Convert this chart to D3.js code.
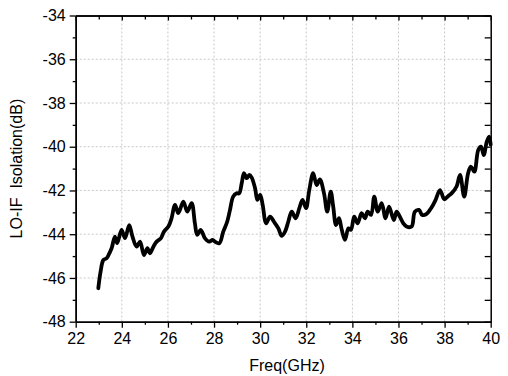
<!DOCTYPE html>
<html>
<head>
<meta charset="utf-8">
<script src="https://cdn.jsdelivr.net/npm/d3@7"></script>
<style>
  html, body { margin: 0; padding: 0; background: #fff; }
  svg { display: block; font-family: "Liberation Sans", Arial, sans-serif; }
</style>
</head>
<body>
<svg id="chart" width="508" height="376"></svg>
<script>
// ---- data ----
const freq = [22.98, 23.08, 23.2, 23.34, 23.46, 23.56, 23.70, 23.80, 23.99, 24.14, 24.32, 24.46, 24.64, 24.79, 24.96, 25.11, 25.22, 25.37, 25.51, 25.69, 25.83, 26.02, 26.15, 26.31, 26.45, 26.67, 26.84, 27.03, 27.17, 27.27, 27.42, 27.61, 27.79, 27.94, 28.04, 28.23, 28.40, 28.57, 28.69, 28.83, 28.98, 29.09, 29.20, 29.30, 29.42, 29.53, 29.63, 29.78, 29.88, 30.0, 30.11, 30.26, 30.43, 30.60, 30.79, 30.93, 31.08, 31.22, 31.37, 31.54, 31.70, 31.84, 31.99, 32.13, 32.30, 32.45, 32.59, 32.77, 32.91, 33.06, 33.17, 33.29, 33.42, 33.54, 33.68, 33.83, 33.94, 34.08, 34.23, 34.40, 34.55, 34.66, 34.81, 34.95, 35.10, 35.27, 35.44, 35.59, 35.80, 35.92, 36.06, 36.21, 36.35, 36.57, 36.71, 36.89, 37.03, 37.22, 37.44, 37.61, 37.80, 37.99, 38.16, 38.33, 38.52, 38.67, 38.85, 39.02, 39.14, 39.29, 39.46, 39.58, 39.70, 39.83, 39.93, 40.0];
const isolation = [-46.47, -45.71, -45.18, -45.1, -44.87, -44.64, -44.11, -44.41, -43.8, -44.18, -43.58, -44.1, -44.57, -44.34, -44.95, -44.64, -44.87, -44.57, -44.34, -44.19, -43.88, -43.65, -43.3, -42.66, -43.04, -42.51, -42.97, -42.58, -43.5, -44.03, -43.8, -44.19, -44.34, -44.26, -44.34, -44.41, -43.88, -43.43, -42.9, -42.28, -42.13, -42.13, -41.67, -41.21, -41.44, -41.29, -41.4, -41.9, -42.43, -42.2, -42.66, -43.5, -43.2, -43.43, -43.73, -44.08, -43.88, -43.43, -42.97, -43.27, -42.81, -42.43, -42.81, -41.98, -41.21, -41.75, -41.49, -42.13, -42.97, -42.05, -42.74, -43.58, -43.27, -43.8, -44.26, -43.73, -43.8, -43.2, -43.5, -43.04, -43.27, -42.97, -43.12, -42.28, -42.97, -42.58, -43.27, -42.74, -43.35, -42.97, -43.2, -43.5, -43.65, -43.65, -42.97, -42.89, -43.12, -43.07, -42.77, -42.43, -41.98, -42.4, -42.25, -42.1, -41.82, -41.29, -42.28, -41.21, -40.91, -41.14, -40.15, -40.0, -40.38, -39.77, -39.54, -39.9];
const xTicks = [22, 24, 26, 28, 30, 32, 34, 36, 38, 40];
const yTicks = [-48, -46, -44, -42, -40, -38, -36, -34];
const xMinor = [23, 25, 27, 29, 31, 33, 35, 37, 39];
const yMinor = [-47, -45, -43, -41, -39, -37, -35];
const xLabel = "Freq(GHz)";
const yLabel = "LO-IF  Isolation(dB)";

// ---- layout ----
const svg = d3.select("#chart");
const L = 75.7, T = 15.5, R = 490.7, B = 321.7;
const x = d3.scaleLinear().domain([22, 40]).range([L, R]);
const y = d3.scaleLinear().domain([-48, -34]).range([B, T]);
const fmt = d => String(d);

// grid
const grid = svg.append("g").attr("stroke", "#c8c8c8").attr("stroke-width", 1).attr("stroke-dasharray", "2,2");
grid.selectAll(".gx").data(xTicks.slice(1, -1)).join("line")
  .attr("x1", d => x(d)).attr("x2", d => x(d)).attr("y1", T).attr("y2", B);
grid.selectAll(".gy").data(yTicks.slice(1, -1)).join("line")
  .attr("y1", d => y(d)).attr("y2", d => y(d)).attr("x1", L).attr("x2", R);

// line
const line = d3.line().x((d, i) => x(freq[i])).y(d => y(d)).curve(d3.curveCatmullRom.alpha(0.5));
svg.append("path").datum(isolation).attr("d", line)
  .attr("fill", "none").attr("stroke", "#000").attr("stroke-width", 3.8)
  .attr("stroke-linejoin", "round").attr("stroke-linecap", "round");

// axes
function styleAxis(g) {
  g.selectAll("path.domain").attr("stroke", "#000").attr("stroke-width", 1.5);
  g.selectAll(".tick line").attr("stroke", "#000").attr("stroke-width", 1.3);
  g.selectAll("text").attr("font-size", 16).attr("fill", "#000").attr("font-family", "Liberation Sans, Arial, sans-serif");
}
svg.append("g").attr("transform", `translate(0,${B})`)
  .call(d3.axisBottom(x).tickValues(xTicks).tickFormat(fmt).tickSize(6).tickPadding(5).tickSizeOuter(0)).call(styleAxis);
svg.append("g").attr("transform", `translate(0,${B})`)
  .call(d3.axisBottom(x).tickValues(xMinor).tickFormat("").tickSize(3).tickSizeOuter(0)).call(styleAxis);

svg.append("g").attr("transform", `translate(${L},0)`)
  .call(d3.axisLeft(y).tickValues(yTicks).tickFormat(fmt).tickSize(6).tickPadding(4).tickSizeOuter(0)).call(styleAxis);
svg.append("g").attr("transform", `translate(${L},0)`)
  .call(d3.axisLeft(y).tickValues(yMinor).tickFormat("").tickSize(3).tickSizeOuter(0)).call(styleAxis);

// top & right (inward ticks)
svg.append("g").attr("transform", `translate(0,${T})`)
  .call(d3.axisBottom(x).tickValues(xTicks).tickFormat("").tickSize(5).tickSizeOuter(0)).call(styleAxis);
svg.append("g").attr("transform", `translate(0,${T})`)
  .call(d3.axisBottom(x).tickValues(xMinor).tickFormat("").tickSize(4).tickSizeOuter(0)).call(styleAxis);
svg.append("g").attr("transform", `translate(${R},0)`)
  .call(d3.axisRight(y).tickValues(yTicks.concat(yMinor)).tickFormat("").tickSize(-6).tickSizeOuter(0)).call(styleAxis);

// titles
svg.append("text").attr("x", 287).attr("y", 371).attr("text-anchor", "middle")
  .attr("font-size", 16).text(xLabel);
svg.append("text").attr("transform", `translate(22,${(T + B) / 2}) rotate(-90)`).attr("text-anchor", "middle")
  .attr("font-size", 16).style("white-space", "pre").text(yLabel);
</script>
</body>
</html>
